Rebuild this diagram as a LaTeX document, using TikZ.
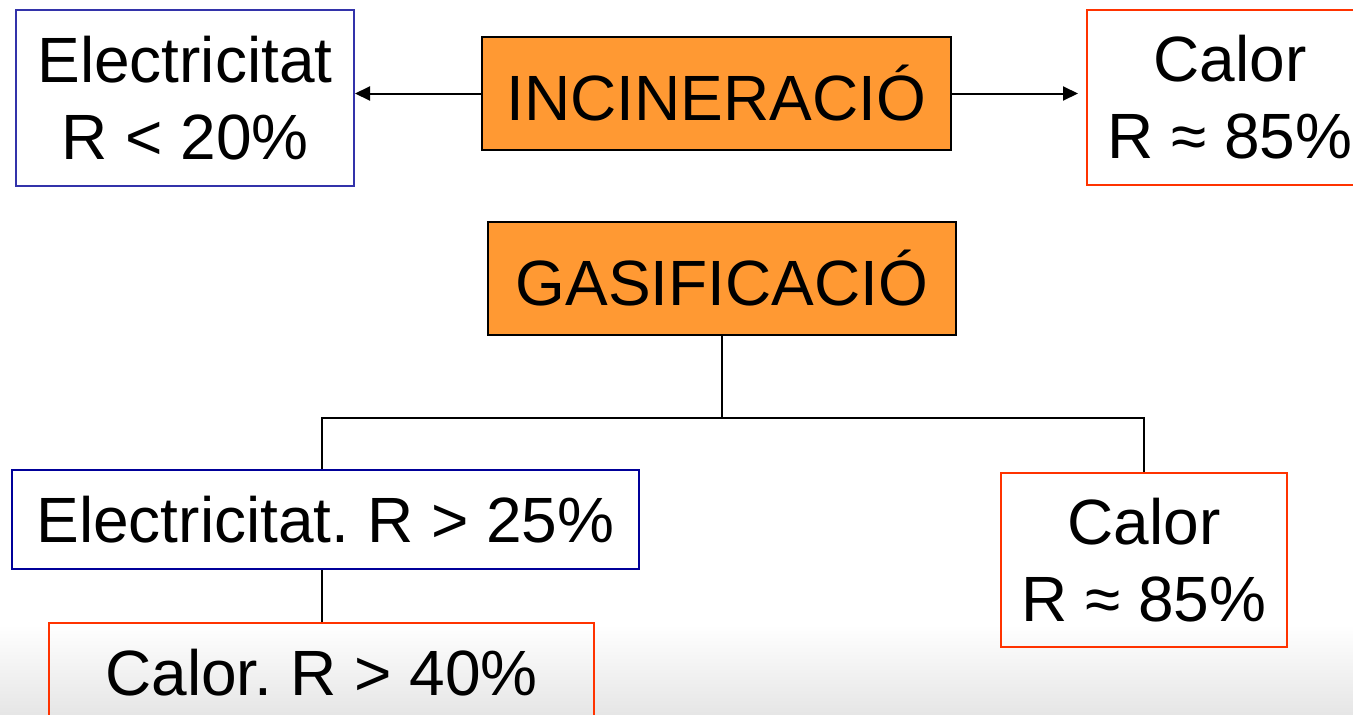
\documentclass[tikz,border=0pt]{standalone}
\usepackage{fontspec}
\setmainfont{Liberation Sans}
\frenchspacing
\usetikzlibrary{arrows.meta}
\definecolor{orangefill}{RGB}{255,153,51}
\definecolor{blueA}{RGB}{51,51,170}
\definecolor{blueB}{RGB}{0,0,153}
\definecolor{redB}{RGB}{255,51,0}
\tikzset{
  box/.style={draw, line width=2pt, inner sep=0pt, align=center,
    font=\fontsize{64}{77}\selectfont},
  mainbox/.style={box, draw=black, fill=orangefill},
  elbox/.style={box, draw=blueA},
  el2box/.style={box, draw=blueB},
  calbox/.style={box, draw=redB},
  conn/.style={line width=2pt, draw=black},
  arr/.style={conn, -{Triangle[length=15pt,width=14pt]}}
}
\begin{document}
\begin{tikzpicture}[x=1pt,y=-1pt]
\useasboundingbox (0,0) rectangle (1353,715);
\clip (0,0) rectangle (1353,715);
\fill[white] (0,0) rectangle (1353,715);
\shade[top color=white, bottom color=black!10] (0,625) rectangle (1353,715);

\node[elbox, minimum width=338pt, minimum height=176pt] (elec1) at (185,98) {Electricitat\\R < 20\%};
\node[mainbox, minimum width=469pt, minimum height=113pt] (inc) at (716.5,93.5) {INCINERACIÓ};
\node[calbox, minimum width=286pt, minimum height=175pt] (calor1) at (1230,97.5) {Calor\\R ≈ 85\%};

\node[mainbox, minimum width=468pt, minimum height=113pt] (gas) at (722,278.5) {GASIFICACIÓ};
\node[el2box, minimum width=627pt, minimum height=99pt] (elec2) at (325.5,519.5) {Electricitat. R > 25\%};
\node[calbox, minimum width=286pt, minimum height=174pt] (calor2) at (1144,560) {Calor\\R ≈ 85\%};
\node[calbox, minimum width=545pt, minimum height=100pt] (calor3) at (321.5,673) {Calor. R > 40\%};

\draw[arr] (inc.west) -- (inc.west -| elec1.east);
\draw[arr, shorten >=8pt] (inc.east) -- (inc.east -| calor1.west);

\coordinate (j) at (722,418);
\draw[conn] (gas.south) -- (j);
\draw[conn] ([xshift=-3.5pt]elec2.north) |- (j) -| (calor2.north);
\draw[conn] (calor3.north) -- (calor3.north |- elec2.south);
\end{tikzpicture}
\end{document}
